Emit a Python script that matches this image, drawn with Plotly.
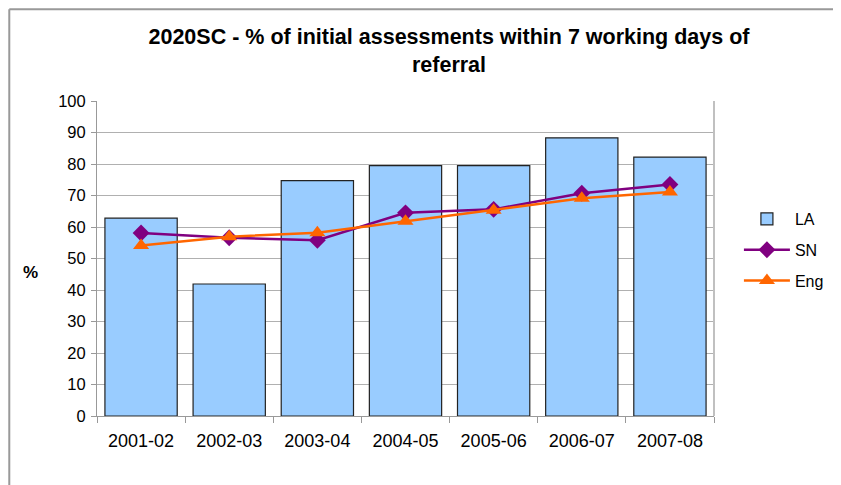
import plotly.graph_objects as go

# 데이터
years = ["2001-02", "2002-03", "2003-04", "2004-05", "2005-06", "2006-07", "2007-08"]
la_vals = [62.8, 41.9, 74.7, 79.5, 79.5, 88.3, 82.2]
sn_vals = [58.1, 56.6, 55.8, 64.5, 65.6, 70.7, 73.5]
eng_vals = [54.1, 56.9, 58.2, 61.8, 65.3, 69.1, 71.1]
y_ticks = list(range(0, 101, 10))

BAR = "#99CCFF"
PURPLE = "#800080"
ORANGE = "#FF6600"
FONT = "Liberation Sans, Arial, sans-serif"

# 페이지 body 여백(8px)을 감안한 크기/여백
W, H = 833, 477
L, T, PW, PH = 89, 93, 619, 315


def px_x(x):
    """figure 픽셀 x → paper 좌표"""
    return (x - L) / PW


def px_y(y):
    """figure 픽셀 y → paper 좌표"""
    return (T + PH - y) / PH


fig = go.Figure()
fig.add_trace(go.Bar(
    x=years, y=la_vals, name="LA", legendgroup="la",
    marker=dict(color=BAR, line=dict(color="#222222", width=1.2)),
))
fig.add_trace(go.Scatter(
    x=years, y=sn_vals, name="SN", mode="lines+markers", legendgroup="sn",
    line=dict(color=PURPLE, width=2.5),
    marker=dict(symbol="diamond", size=13, color=PURPLE),
))
fig.add_trace(go.Scatter(
    x=years, y=eng_vals, name="Eng", mode="lines+markers", legendgroup="eng",
    line=dict(color=ORANGE, width=2.5),
    marker=dict(symbol="triangle-up", size=14, color=ORANGE),
))

# 바깥 테두리(왼쪽/위쪽만 보임)
fig.add_shape(type="line", xref="paper", yref="paper",
              x0=px_x(1), x1=px_x(W + 20), y0=px_y(1.2), y1=px_y(1.2),
              line=dict(color="#999999", width=2))
fig.add_shape(type="line", xref="paper", yref="paper",
              x0=px_x(1), x1=px_x(1), y0=px_y(1.2), y1=px_y(H + 20),
              line=dict(color="#999999", width=2))
# 오른쪽 플롯 테두리
fig.add_shape(type="line", xref="paper", yref="paper", x0=1, x1=1, y0=0, y1=1,
              line=dict(color="#C0C0C0", width=2))

fig.add_annotation(text="<b>%</b>", xref="paper", yref="paper",
                   x=px_x(22), y=px_y(264), xanchor="center", yanchor="middle",
                   showarrow=False, font=dict(size=17, color="black", family=FONT))

fig.update_layout(
    width=W, height=H,
    margin=dict(l=L, r=W - L - PW, t=T, b=H - T - PH),
    paper_bgcolor="white", plot_bgcolor="white",
    font=dict(family=FONT, size=16, color="black"),
    title=dict(
        text="<b>2020SC - % of initial assessments within 7 working days of<br>referral</b>",
        x=441 / W, xanchor="center", y=1 - 36 / H, yanchor="top",
        font=dict(size=21.5, family=FONT, color="black"),
    ),
    bargap=0.18,
    showlegend=True,
    legend=dict(x=px_x(733), y=px_y(194), xanchor="left", yanchor="top",
                font=dict(size=16, family=FONT), tracegroupgap=7, itemwidth=46,
                bgcolor="rgba(0,0,0,0)"),
)
fig.update_xaxes(
    type="category", showgrid=False, showline=True, linecolor="#999999", linewidth=1,
    ticks="outside", tickson="boundaries", ticklen=6, tickcolor="#999999",
    tickfont=dict(size=18), ticklabelstandoff=8, mirror=False,
)
fig.update_yaxes(
    range=[0, 100], tickvals=y_ticks, showgrid=True, gridcolor="#B0B0B0", gridwidth=1,
    showline=True, linecolor="#999999", linewidth=1, ticks="outside", ticklen=5,
    tickcolor="#999999", tickfont=dict(size=16.5), ticklabelstandoff=2, zeroline=False,
)

fig.write_html("out.html")
